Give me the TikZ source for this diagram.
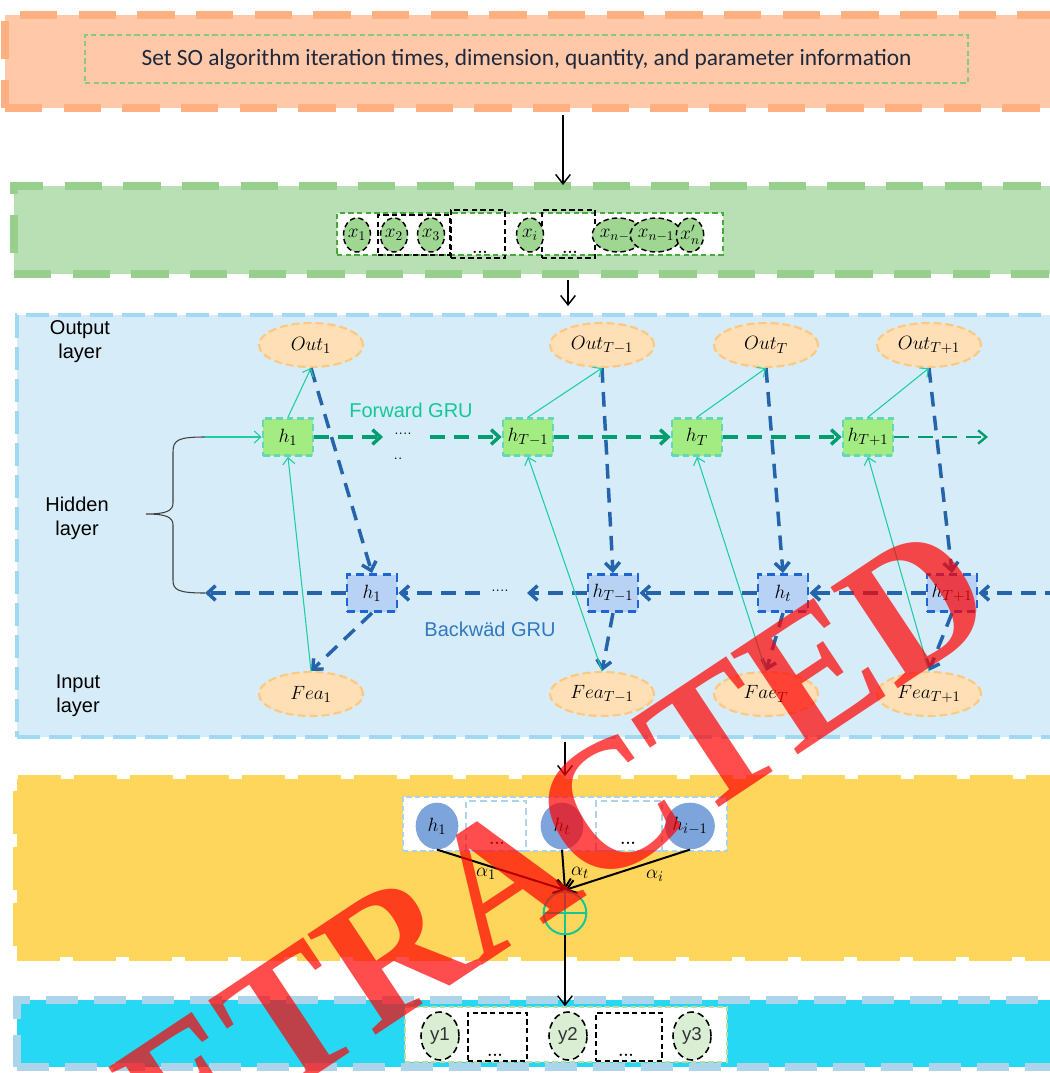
\documentclass[tikz,border=0pt]{standalone}
\usepackage{fontspec}
\newfontfamily\calfont{Carlito}
\newfontfamily\arialfont{Liberation Sans}
\newfontfamily\wmfont{Liberation Serif}
\usetikzlibrary{arrows.meta,shapes.geometric,calc}
\definecolor{orFill}{RGB}{255,200,168}
\definecolor{orBorder}{RGB}{255,176,128}
\definecolor{grFill}{RGB}{185,223,180}
\definecolor{grBorder}{RGB}{150,208,140}
\definecolor{blFill}{RGB}{214,236,248}
\definecolor{blBorder}{RGB}{160,218,242}
\definecolor{yeFill}{RGB}{254,214,92}
\definecolor{cyFill}{RGB}{38,216,244}
\definecolor{cyBorder}{RGB}{172,212,234}
\definecolor{inGreen}{RGB}{140,200,120}
\definecolor{boxGreen}{RGB}{70,170,60}
\definecolor{xFill}{RGB}{158,214,146}
\definecolor{ellFill}{RGB}{255,223,182}
\definecolor{ellBorder}{RGB}{255,200,128}
\definecolor{hfFill}{RGB}{163,236,130}
\definecolor{hfBorder}{RGB}{100,215,180}
\definecolor{hbFill}{RGB}{183,210,245}
\definecolor{hbBorder}{RGB}{30,100,210}
\definecolor{bDash}{RGB}{37,99,170}
\definecolor{gDash}{RGB}{0,158,110}
\definecolor{tealC}{RGB}{30,205,160}
\definecolor{fwdText}{RGB}{20,200,150}
\definecolor{bwdText}{RGB}{50,120,190}
\definecolor{attBorder}{RGB}{175,210,235}
\definecolor{attCirc}{RGB}{125,165,220}
\definecolor{yFill}{RGB}{218,238,212}
\definecolor{yBoxBorder}{RGB}{190,220,160}
\definecolor{topText}{RGB}{30,40,60}
\begin{document}
\begin{tikzpicture}[x=0.75pt,y=-0.75pt,
  band/.style={rectangle, inner sep=0pt, line width=6pt, dash pattern=on 28pt off 16pt},
  inbox/.style={rectangle, inner sep=0pt, fill=white, line width=1.1pt, dash pattern=on 4pt off 2.5pt},
  blkbox/.style={rectangle, inner sep=0pt, draw=black, line width=1.1pt, dash pattern=on 4pt off 2.5pt},
  xell/.style={ellipse, inner sep=0pt, fill=xFill, draw=black, line width=1.1pt, dash pattern=on 4pt off 2.5pt, minimum width=20.25pt, minimum height=25.5pt, font=\fontsize{14}{16}\selectfont},
  outell/.style={ellipse, inner sep=0pt, fill=ellFill, draw=ellBorder, line width=1.6pt, dash pattern=on 6pt off 3pt, minimum width=78pt, minimum height=33pt, font=\fontsize{15}{17}\selectfont},
  hfbox/.style={rectangle, inner sep=0pt, fill=hfFill, draw=hfBorder, line width=2pt, dash pattern=on 5pt off 3pt, minimum width=37.5pt, minimum height=27.75pt, font=\fontsize{15}{17}\selectfont},
  hbbox/.style={rectangle, inner sep=0pt, fill=hbFill, draw=hbBorder, line width=2.2pt, dash pattern=on 6pt off 4pt, minimum width=37.5pt, minimum height=27.75pt, font=\fontsize{15}{17}\selectfont},
  blackarr/.style={draw=black, line width=1.1pt, -{Straight Barb[length=7pt,width=11pt]}},
  bluedash/.style={draw=bDash, line width=2.6pt, dash pattern=on 11pt off 7pt, -{Straight Barb[length=6pt,width=11pt]}},
  greendash/.style={draw=gDash, line width=2.6pt, dash pattern=on 11pt off 7pt, -{Straight Barb[length=6pt,width=11pt]}},
  tealarr/.style={draw=tealC, line width=0.8pt, -{Straight Barb[length=5pt,width=9pt]}},
  lbl/.style={font=\arialfont\fontsize{15}{18}\selectfont, align=center, text=black},
  dots/.style={font=\fontsize{12}{14}\selectfont\bfseries, inner sep=0pt},
  attc/.style={ellipse, inner sep=0pt, fill=attCirc, minimum width=32pt, minimum height=35pt, font=\fontsize{15}{17}\selectfont},
  attbox/.style={rectangle, inner sep=0pt, draw=attBorder, line width=1.1pt, dash pattern=on 5pt off 3pt},
  yell/.style={ellipse, inner sep=0pt, fill=yFill, draw=black, line width=1.2pt, dash pattern=on 5pt off 3pt, minimum width=28.5pt, minimum height=36pt, font=\arialfont\fontsize{14}{16}\selectfont, text={black!80}},
  attline/.style={draw=black, line width=1.5pt, -{Straight Barb[length=7pt,width=10pt]}}
]
\useasboundingbox (0,0) rectangle (1049,1073);
\fill[white] (0,0) rectangle (1049,1073);

% ---------- band 1 ----------
\node[band, fill=orFill, draw=orBorder, minimum width=798.75pt, minimum height=69.75pt] (b1) at (537.5,61.5) {};
\node[inbox, fill=none, draw=inGreen, minimum width=662.25pt, minimum height=36pt,
      font=\calfont\fontsize{17.5}{20}\selectfont, text=topText] (setbox) at (526.5,59)
      {Set SO algorithm iteration times, dimension, quantity, and parameter information};

% ---------- band 2 ----------
\node[band, fill=grFill, draw=grBorder, minimum width=792pt, minimum height=66pt] (b2) at (542,230) {};
\node[inbox, draw=boxGreen, minimum width=289.5pt, minimum height=31.5pt] (xbox) at (530,234) {};
\node[blkbox, minimum width=54pt, minimum height=30pt] (bxA) at (414,235) {};
\node[blkbox, minimum width=40.5pt, minimum height=36pt] (bxB) at (478,234) {};
\node[blkbox, minimum width=39.75pt, minimum height=36pt] (bxC) at (568.5,234) {};
\node[dots] (dB) at (480,252) {...};
\node[dots] (dC) at (570,252) {...};
\node[xell] (x1) at (357,235) {$x_1$};
\node[xell] (x2) at (394,235) {$x_2$};
\node[xell] (x3) at (431,235) {$x_3$};
\node[xell] (xi) at (530,235) {$x_i$};
\node[xell] (xn2) at (618,235) {$x_{n-2}$};
\node[xell] (xn1) at (656,235) {$x_{n-1}$};
\node[xell] (xn) at (690,235) {$x_n'$};

% ---------- band 3 ----------
\node[band, fill=blFill, draw=blBorder, line width=3pt, dash pattern=on 17pt off 7pt,
      minimum width=789.75pt, minimum height=316.5pt] (b3) at (543.5,526) {};

\node[lbl] (lOut) at (80,342) {Output\\layer};
\node[lbl] (lHid) at (77,518) {Hidden\\layer};
\node[lbl] (lIn) at (78,696) {Input\\layer};

\node[outell] (o1) at (311,345) {$Out_1$};
\node[outell] (o2) at (602,345) {$Out_{T-1}$};
\node[outell] (o3) at (766,345) {$Out_T$};
\node[outell] (o4) at (929,345) {$Out_{T+1}$};

\node[outell] (f1) at (311,694) {$Fea_1$};
\node[outell] (f2) at (602,694) {$Fea_{T-1}$};
\node[outell] (f3) at (766,694) {$Fae_T$};
\node[outell] (f4) at (929,694) {$Fea_{T+1}$};

\node[hfbox] (hf1) at (288,437) {$h_1$};
\node[hfbox] (hf2) at (528,437) {$h_{T-1}$};
\node[hfbox] (hf3) at (697,437) {$h_T$};
\node[hfbox] (hf4) at (868,437) {$h_{T+1}$};

\node[hbbox] (hb1) at (372,593) {$h_1$};
\node[hbbox] (hb2) at (613,593) {$h_{T-1}$};
\node[hbbox] (hb3) at (783,593) {$h_t$};
\node[hbbox] (hb4) at (952,593) {$h_{T+1}$};

\node[font=\arialfont\fontsize{15}{18}\selectfont, text=fwdText] (fwd) at (411,410) {Forward GRU};
\node[font=\arialfont\fontsize{15}{18}\selectfont, text=bwdText] (bwd) at (490,629) {Backwäd GRU};

% forward chain
\coordinate (fa) at (383,437);
\coordinate (fb) at (430,437);
\coordinate (fe) at (988,437);
\node[font=\fontsize{12}{14}\selectfont] (fdots) at (403,434) {....};
\node[font=\fontsize{12}{14}\selectfont] (fdots2) at (398,459) {..};
\draw[greendash] (hf1) -- (fa);
\draw[greendash] (fb) -- (hf2);
\draw[greendash] (hf2) -- (hf3);
\draw[greendash] (hf3) -- (hf4);
\draw[greendash, line width=1.8pt, -{Straight Barb[length=6pt,width=10pt]}] (hf4) -- (fe);

% backward chain
\coordinate (bs) at (1060,593);
\coordinate (ba) at (527,593);
\coordinate (bb) at (480,593);
\coordinate (be) at (205,593);
\node[font=\fontsize{12}{14}\selectfont] (bdots) at (500,591) {....};
\draw[bluedash] (bs) -- (hb4);
\draw[bluedash] (hb4) -- (hb3);
\draw[bluedash] (hb3) -- (hb2);
\draw[bluedash] (hb2) -- (ba);
\draw[bluedash] (bb) -- (hb1);
\draw[bluedash] (hb1) -- (be);

% out -> backward h, backward h -> fea
\foreach \i in {1,2,3,4}{
  \draw[bluedash] (o\i.south) -- (hb\i.north);
  \draw[bluedash] (hb\i.south) -- (f\i.north);
  \draw[tealarr] (hf\i.north) -- (o\i.south);
  \draw[tealarr] (f\i.north) -- (hf\i.south);
}

% brace
\coordinate (brTop) at (205,437);
\draw[draw=black!75, line width=0.8pt] (brTop) .. controls (178,437) and (173,440) .. (173,452) -- (173,503)
  .. controls (173,511) and (166,514) .. (146,514) .. controls (166,514) and (173,517) .. (173,525)
  -- (173,580) .. controls (173,590) and (178,593) .. (be);
\draw[tealarr] (brTop) -- (hf1);

% ---------- band 4 ----------
\node[band, fill=yeFill, draw=yeFill, dash pattern=on 32pt off 10pt,
      minimum width=789.75pt, minimum height=133.5pt] (b4) at (543.5,868) {};
\node[inbox, draw=attBorder, minimum width=243pt, minimum height=40.5pt] (att) at (565,824) {};
\node[attbox, minimum width=45pt, minimum height=37.5pt] (ab1) at (496,826) {};
\node[attbox, minimum width=49.5pt, minimum height=37.5pt] (ab2) at (629,826) {};
\node[dots] (ad1) at (497,843) {...};
\node[dots] (ad2) at (628,843) {...};
\node[attc] (c1) at (437,826) {$h_1$};
\node[attc] (c2) at (562,826) {$h_t$};
\node[attc] (c3) at (690,826) {$h_{i-1}$};
\node[circle, inner sep=0pt, minimum size=32pt, draw=fwdText, line width=1.5pt] (op) at (565,913) {};
\draw[draw=fwdText, line width=1.5pt] (op.west) -- (op.east);
\draw[draw=fwdText, line width=1.5pt] (op.north) -- (op.south);
\coordinate (conv) at (565,890);
\draw[attline] (c1.south) -- (conv);
\draw[attline] (c2.south) -- (conv);
\draw[attline] (c3.south) -- (conv);
\node[font=\fontsize{15}{17}\selectfont] (al1) at (486,874) {$\alpha_1$};
\node[font=\fontsize{15}{17}\selectfont] (al2) at (580,873) {$\alpha_t$};
\node[font=\fontsize{15}{17}\selectfont] (al3) at (655,876) {$\alpha_i$};

% ---------- band 5 ----------
\node[band, fill=cyFill, draw=cyBorder, dash pattern=on 24pt off 12pt,
      minimum width=789.75pt, minimum height=50.25pt] (b5) at (543.5,1033.5) {};
\node[inbox, draw=yBoxBorder, minimum width=241.5pt, minimum height=41.25pt] (ybox) at (566,1034.5) {};
\node[blkbox, minimum width=44.25pt, minimum height=36pt] (yb1) at (497.5,1037) {};
\node[blkbox, minimum width=49.5pt, minimum height=36pt] (yb2) at (629,1037) {};
\node[dots] (yd1) at (495,1055) {...};
\node[dots] (yd2) at (626,1055) {...};
\node[yell] (y1) at (440,1036) {y1};
\node[yell] (y2) at (568,1036) {y2};
\node[yell] (y3) at (692,1036) {y3};

% ---------- connectors between bands ----------
\coordinate (a1s) at (563,115);
\coordinate (a1e) at (563,185);
\draw[blackarr] (a1s) -- (a1e);
\coordinate (a2s) at (568,280);
\coordinate (a2e) at (568,306);
\draw[blackarr] (a2s) -- (a2e);
\coordinate (a3s) at (565,742);
\coordinate (a3e) at (565,776);
\draw[blackarr] (a3s) -- (a3e);
\draw[blackarr] (op.south) -- (ybox.north -| op.south);

% ---------- watermark ----------
\node[rotate=33.6, text=red, opacity=0.7, inner sep=0pt,
      font=\wmfont\bfseries\fontsize{139}{139}\selectfont] (wm) at (501,880) {\scalebox{0.967}[1]{RETRACTED}};
\end{tikzpicture}
\end{document}
